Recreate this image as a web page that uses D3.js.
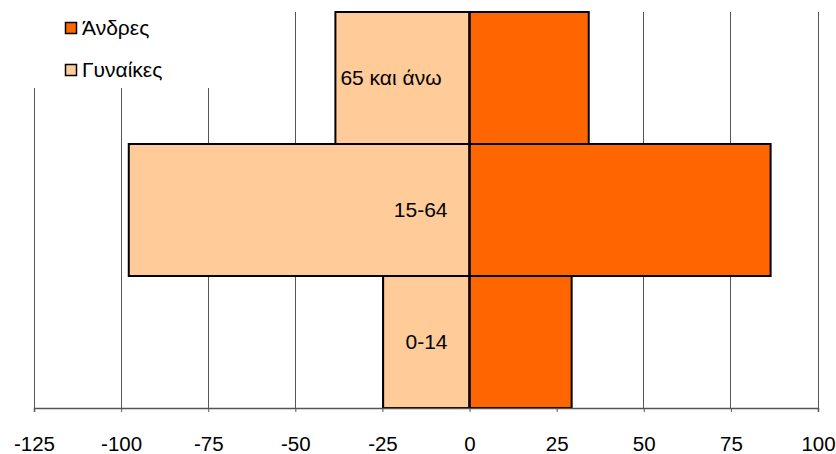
<!DOCTYPE html>
<html>
<head>
<meta charset="utf-8">
<script src="https://cdn.jsdelivr.net/npm/d3@7"></script>
<style>
  html, body { margin: 0; padding: 0; background: #fff; }
  svg { display: block; font-family: Arial, "Liberation Sans", sans-serif; }
</style>
</head>
<body>
<svg id="chart" width="836" height="454"></svg>
<script>
// ---- data ----
const categories = ["0-14", "15-64", "65 και άνω"];
const men = [29.3, 86.4, 34.2];
const women = [-24.8, -97.8, -38.5];
const tickValues = [-125, -100, -75, -50, -25, 0, 25, 50, 75, 100];
const seriesNames = ["Άνδρες", "Γυναίκες"];
const seriesColors = ["#FF6600", "#FFCC99"];

// ---- layout ----
const svg = d3.select("#chart");
const plotLeft = 34, plotRight = 818, plotTop = 12, plotBottom = 408;

const x = d3.scaleLinear().domain([-125, 100]).range([plotLeft, plotRight]);
const y = d3.scaleBand().domain(categories.slice().reverse()).range([plotTop, plotBottom]).padding(0);

// gridlines
svg.append("g").selectAll("line").data(tickValues).join("line")
  .attr("x1", d => x(d)).attr("x2", d => x(d))
  .attr("y1", plotTop).attr("y2", plotBottom)
  .attr("stroke", "#555").attr("stroke-width", 1)
  .attr("shape-rendering", "crispEdges");

// bars
const rows = categories.map((c, i) => ({ cat: c, men: men[i], women: women[i] }));
const gBars = svg.append("g");
gBars.selectAll("rect.w").data(rows).join("rect")
  .attr("class", "w")
  .attr("x", d => x(d.women)).attr("width", d => x(0) - x(d.women))
  .attr("y", d => y(d.cat)).attr("height", y.bandwidth())
  .attr("fill", seriesColors[1]).attr("stroke", "#000").attr("stroke-width", 2);
gBars.selectAll("rect.m").data(rows).join("rect")
  .attr("class", "m")
  .attr("x", x(0)).attr("width", d => x(d.men) - x(0))
  .attr("y", d => y(d.cat)).attr("height", y.bandwidth())
  .attr("fill", seriesColors[0]).attr("stroke", "#000").attr("stroke-width", 2);

// zero line
svg.append("line")
  .attr("x1", x(0)).attr("x2", x(0)).attr("y1", plotTop).attr("y2", plotBottom)
  .attr("stroke", "#000").attr("stroke-width", 2);

// category labels
svg.append("g").selectAll("text").data(rows).join("text")
  .attr("x", (d, i) => x(0) - (i === 2 ? 28 : 22))
  .attr("y", d => y(d.cat) + y.bandwidth() / 2)
  .attr("dy", "0.35em")
  .attr("text-anchor", "end")
  .attr("font-size", 21)
  .attr("fill", "#000")
  .text(d => d.cat);

// x axis
const axis = d3.axisBottom(x).tickValues(tickValues).tickSize(4).tickPadding(24).tickFormat(d3.format("d"));
const gAxis = svg.append("g").attr("transform", `translate(0,${plotBottom})`).call(axis);
gAxis.select(".domain").attr("stroke", "#555").attr("stroke-width", 1.5);
gAxis.selectAll(".tick line").attr("stroke", "#555");
gAxis.selectAll(".tick text")
  .attr("font-size", 20.5).attr("font-family", "Arial, 'Liberation Sans', sans-serif")
  .attr("fill", "#000").text(d => d < 0 ? "-" + Math.abs(d) : d);

// legend (white background hides gridlines)
const leg = svg.append("g");
leg.append("rect").attr("x", 0).attr("y", 0).attr("width", 265).attr("height", 88).attr("fill", "#fff");
const items = leg.selectAll("g.item").data(seriesNames).join("g")
  .attr("class", "item")
  .attr("transform", (d, i) => `translate(65,${22 + i * 42})`);
items.append("rect").attr("x", 0.5).attr("y", 0.5).attr("width", 11).attr("height", 11)
  .attr("fill", (d, i) => seriesColors[i]).attr("stroke", "#000").attr("stroke-width", 1.5);
items.append("text").attr("x", 17).attr("y", 6).attr("dy", "0.35em")
  .attr("font-size", 21).attr("fill", "#000").text(d => d);
</script>
</body>
</html>
